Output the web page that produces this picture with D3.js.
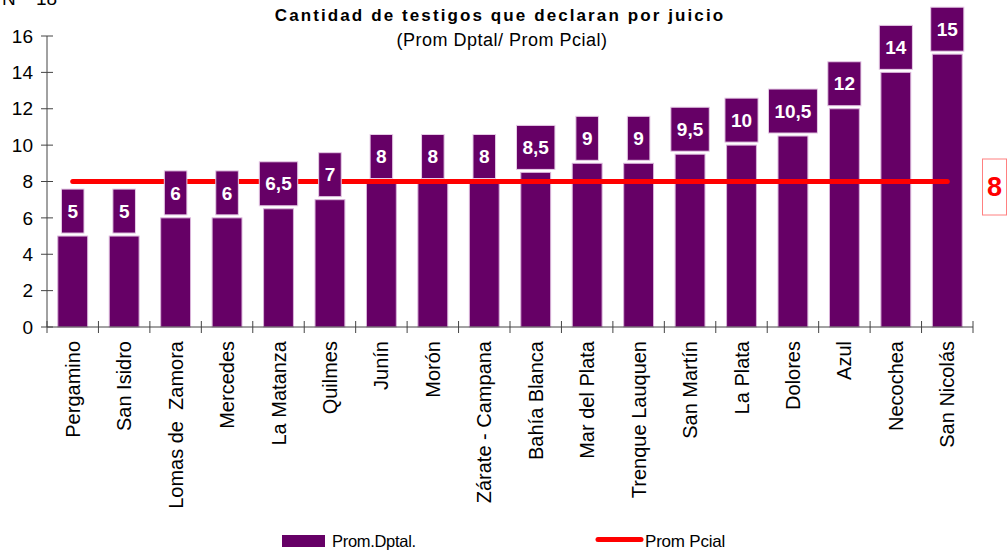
<!DOCTYPE html>
<html>
<head>
<meta charset="utf-8">
<script src="https://cdn.jsdelivr.net/npm/d3@7"></script>
<style>
  body { margin: 0; background: #fff; }
  svg { display: block; font-family: "Liberation Sans", Arial, sans-serif; }
</style>
</head>
<body>
<div id="chart"></div>
<script>
// data
const departments = [
  "Pergamino", "San Isidro", "Lomas de  Zamora", "Mercedes", "La Matanza",
  "Quilmes", "Junín", "Morón", "Zárate - Campana", "Bahía Blanca",
  "Mar del Plata", "Trenque Lauquen", "San Martín", "La Plata", "Dolores",
  "Azul", "Necochea", "San Nicolás",
];
const promDptal = [5, 5, 6, 6, 6.5, 7, 8, 8, 8, 8.5, 9, 9, 9.5, 10, 10.5, 12, 14, 15];
const promPcial = 8;
const yTicks = [0, 2, 4, 6, 8, 10, 12, 14, 16];

const width = 1008;
const height = 550;
const purple = "#660066";
const red = "#ff0000";

const svg = d3.select("#chart")
  .append("svg")
  .attr("width", width)
  .attr("height", height);

// scales
const x = d3.scaleBand()
  .domain(departments)
  .range([47, 973])
  .paddingInner(0.42)
  .paddingOuter(0.21);

const y = d3.scaleLinear().domain([0, 16]).range([327, 36]);

// title
svg.append("text")
  .attr("x", 500)
  .attr("y", 21)
  .attr("text-anchor", "middle")
  .attr("font-size", 17)
  .attr("font-weight", "bold")
  .attr("letter-spacing", 2.1)
  .text("Cantidad de testigos que declaran por juicio");

svg.append("text")
  .attr("x", 502)
  .attr("y", 46)
  .attr("text-anchor", "middle")
  .attr("font-size", 18)
  .attr("letter-spacing", 0.5)
  .text("(Prom Dptal/ Prom Pcial)");

// axis title (cut off at top, as in the original)
svg.append("text")
  .attr("x", 2)
  .attr("y", 5)
  .attr("font-size", 19)
  .text("N°");
svg.append("text")
  .attr("x", 36)
  .attr("y", 5)
  .attr("font-size", 19)
  .text("18");

// y axis
const yAxis = svg.append("g");
yAxis.append("line")
  .attr("x1", 47).attr("x2", 47)
  .attr("y1", y(0)).attr("y2", y(16))
  .attr("stroke", "#444");
yAxis.selectAll("line.tick")
  .data(yTicks)
  .join("line")
  .attr("class", "tick")
  .attr("x1", 41).attr("x2", 53)
  .attr("y1", (d) => y(d)).attr("y2", (d) => y(d))
  .attr("stroke", "#444");
yAxis.selectAll("text")
  .data(yTicks)
  .join("text")
  .attr("x", 33)
  .attr("y", (d) => y(d))
  .attr("dy", "0.35em")
  .attr("text-anchor", "end")
  .attr("font-size", 19)
  .text((d) => d);

// bars
svg.append("g")
  .selectAll("rect")
  .data(departments)
  .join("rect")
  .attr("x", (d) => x(d))
  .attr("width", x.bandwidth())
  .attr("y", (d, i) => y(promDptal[i]))
  .attr("height", (d, i) => y(0) - y(promDptal[i]))
  .attr("fill", purple)
  .attr("stroke", "#d9b3d9")
  .attr("stroke-width", 1);

// x axis (drawn after bars)
const step = x.step();
const xAxis = svg.append("g");
xAxis.append("line")
  .attr("x1", 47).attr("x2", 973)
  .attr("y1", y(0)).attr("y2", y(0))
  .attr("stroke", "#444");
xAxis.selectAll("line.tick")
  .data(d3.range(departments.length + 1))
  .join("line")
  .attr("class", "tick")
  .attr("x1", (i) => 47 + i * step).attr("x2", (i) => 47 + i * step)
  .attr("y1", 321).attr("y2", 333)
  .attr("stroke", "#444");
xAxis.selectAll("text")
  .data(departments)
  .join("text")
  .attr("transform", (d) => `translate(${x(d) + x.bandwidth() / 2},341) rotate(-90)`)
  .attr("dy", "0.35em")
  .attr("text-anchor", "end")
  .attr("font-size", 20)
  .style("white-space", "pre")
  .text((d) => d);

// provincial average line
const first = departments[0];
const last = departments[departments.length - 1];
svg.append("line")
  .attr("x1", x(first) + x.bandwidth() / 2)
  .attr("x2", x(last) + x.bandwidth() / 2)
  .attr("y1", y(promPcial))
  .attr("y2", y(promPcial))
  .attr("stroke", red)
  .attr("stroke-width", 5)
  .attr("stroke-linecap", "round");

// value boxes above bars
const labels = svg.append("g")
  .selectAll("g")
  .data(departments)
  .join("g");

labels.append("rect")
  .attr("fill", purple)
  .attr("stroke", "#e6cce6")
  .attr("stroke-width", 1);

labels.append("text")
  .attr("x", (d) => x(d) + x.bandwidth() / 2)
  .attr("y", (d, i) => y(promDptal[i]) - 3 - 22)
  .attr("dy", "0.35em")
  .attr("text-anchor", "middle")
  .attr("font-size", 19)
  .attr("font-weight", "bold")
  .attr("fill", "#fff")
  .text((d, i) => String(promDptal[i]).replace(".", ","));

labels.each(function (d, i) {
  const g = d3.select(this);
  const w = g.select("text").node().getComputedTextLength() + 12;
  const cx = x(d) + x.bandwidth() / 2;
  g.select("rect")
    .attr("x", cx - w / 2)
    .attr("width", w)
    .attr("y", y(promDptal[i]) - 3 - 44)
    .attr("height", 44);
});

// provincial value label at right
svg.append("rect")
  .attr("x", 982.5)
  .attr("y", y(promPcial) - 22.5)
  .attr("width", 24)
  .attr("height", 56)
  .attr("fill", "#fff")
  .attr("stroke", "#ff8080");
svg.append("text")
  .attr("x", 994.5)
  .attr("y", y(promPcial) + 5.5)
  .attr("dy", "0.35em")
  .attr("text-anchor", "middle")
  .attr("font-size", 27)
  .attr("font-weight", "bold")
  .attr("fill", red)
  .text(promPcial);

// legend
const legend = svg.append("g");
legend.append("rect")
  .attr("x", 282).attr("y", 535)
  .attr("width", 43).attr("height", 12)
  .attr("fill", purple);
legend.append("text")
  .attr("x", 332).attr("y", 547)
  .attr("font-size", 16.5)
  .attr("letter-spacing", -0.3)
  .text("Prom.Dptal.");
legend.append("line")
  .attr("x1", 598).attr("x2", 641)
  .attr("y1", 539.5).attr("y2", 539.5)
  .attr("stroke", red)
  .attr("stroke-width", 5)
  .attr("stroke-linecap", "round");
legend.append("text")
  .attr("x", 645).attr("y", 547)
  .attr("font-size", 17)
  .attr("letter-spacing", -0.2)
  .text("Prom Pcial");
</script>
</body>
</html>
